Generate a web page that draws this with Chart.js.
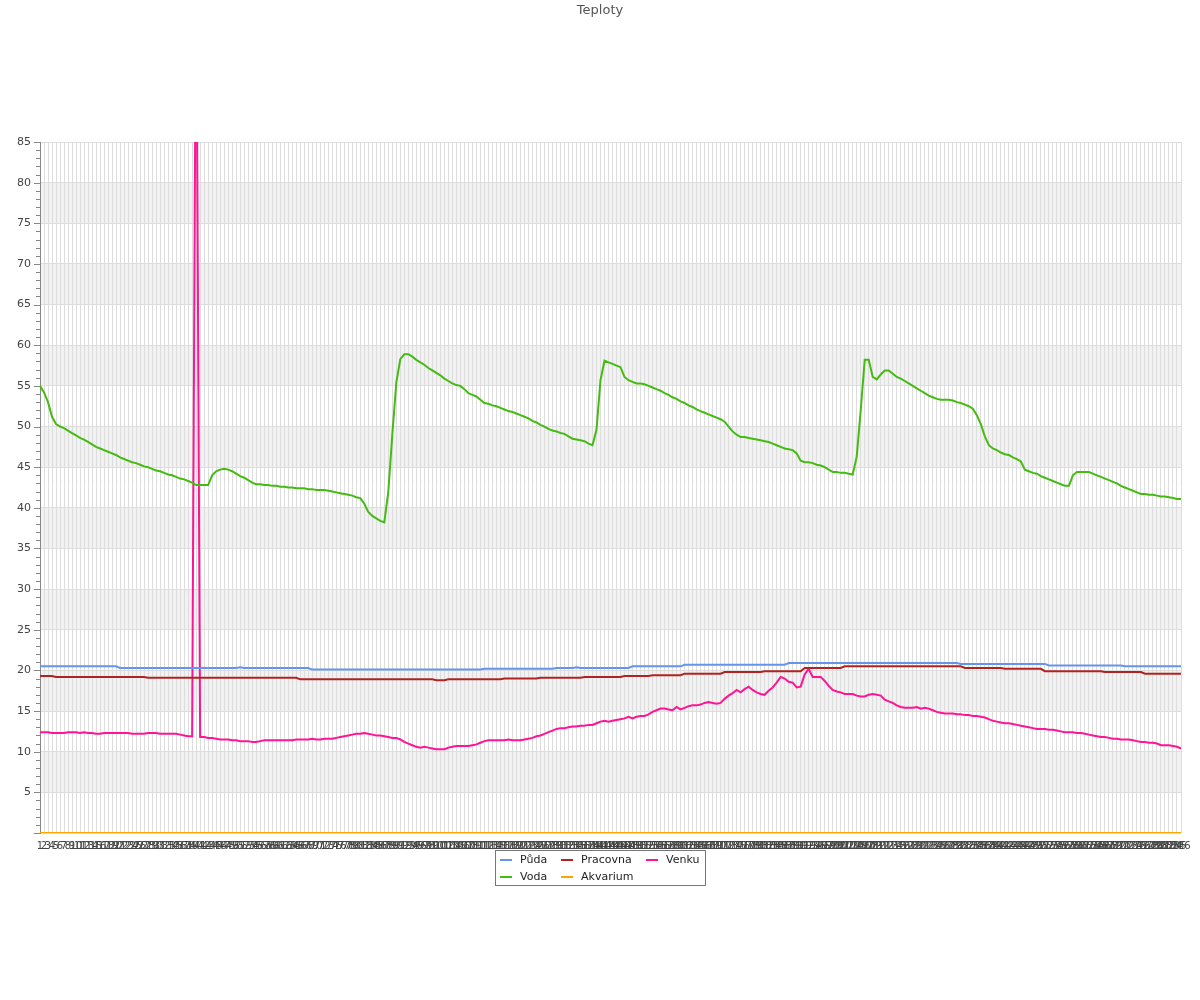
<!DOCTYPE html>
<html>
<head>
<meta charset="utf-8">
<title>Teploty</title>
<script src="https://cdn.jsdelivr.net/npm/chart.js@4.4.0/dist/chart.umd.min.js"></script>
<style>
  html, body { margin: 0; padding: 0; background: #fff; }
  #wrap { position: relative; width: 1200px; height: 1000px; }
</style>
</head>
<body>
<div id="wrap"><canvas id="chartTeploty"></canvas></div>
<script>
// Popisky osy X (poradi mereni)
const labels = Array.from({ length: 286 }, (_, i) => String(i + 1));

// Půda
const puda = [
  20.5,20.5,20.5,20.5,20.5,20.5,20.5,20.5,20.5,20.5,
  20.5,20.5,20.5,20.5,20.5,20.5,20.5,20.5,20.5,20.5,
  20.3,20.3,20.3,20.3,20.3,20.3,20.3,20.3,20.3,20.3,
  20.3,20.3,20.3,20.3,20.3,20.3,20.3,20.3,20.3,20.3,
  20.3,20.3,20.3,20.3,20.3,20.3,20.3,20.3,20.3,20.3,
  20.4,20.3,20.3,20.3,20.3,20.3,20.3,20.3,20.3,20.3,
  20.3,20.3,20.3,20.3,20.3,20.3,20.3,20.3,20.1,20.1,
  20.1,20.1,20.1,20.1,20.1,20.1,20.1,20.1,20.1,20.1,
  20.1,20.1,20.1,20.1,20.1,20.1,20.1,20.1,20.1,20.1,
  20.1,20.1,20.1,20.1,20.1,20.1,20.1,20.1,20.1,20.1,
  20.1,20.1,20.1,20.1,20.1,20.1,20.1,20.1,20.1,20.1,
  20.1,20.2,20.2,20.2,20.2,20.2,20.2,20.2,20.2,20.2,
  20.2,20.2,20.2,20.2,20.2,20.2,20.2,20.2,20.2,20.3,
  20.3,20.3,20.3,20.3,20.4,20.3,20.3,20.3,20.3,20.3,
  20.3,20.3,20.3,20.3,20.3,20.3,20.3,20.3,20.5,20.5,
  20.5,20.5,20.5,20.5,20.5,20.5,20.5,20.5,20.5,20.5,
  20.5,20.7,20.7,20.7,20.7,20.7,20.7,20.7,20.7,20.7,
  20.7,20.7,20.7,20.7,20.7,20.7,20.7,20.7,20.7,20.7,
  20.7,20.7,20.7,20.7,20.7,20.7,20.7,20.9,20.9,20.9,
  20.9,20.9,20.9,20.9,20.9,20.9,20.9,20.9,20.9,20.9,
  20.9,20.9,20.9,20.9,20.9,20.9,20.9,20.9,20.9,20.9,
  20.9,20.9,20.9,20.9,20.9,20.9,20.9,20.9,20.9,20.9,
  20.9,20.9,20.9,20.9,20.9,20.9,20.9,20.9,20.9,20.9,
  20.8,20.8,20.8,20.8,20.8,20.8,20.8,20.8,20.8,20.8,
  20.8,20.8,20.8,20.8,20.8,20.8,20.8,20.8,20.8,20.8,
  20.8,20.8,20.6,20.6,20.6,20.6,20.6,20.6,20.6,20.6,
  20.6,20.6,20.6,20.6,20.6,20.6,20.6,20.6,20.6,20.6,
  20.6,20.5,20.5,20.5,20.5,20.5,20.5,20.5,20.5,20.5,
  20.5,20.5,20.5,20.5,20.5,20.5
];

// Voda
const voda = [
  55.0,54.2,53.0,51.2,50.3,50.0,49.8,49.5,49.2,48.9,
  48.6,48.4,48.1,47.8,47.5,47.3,47.1,46.9,46.7,46.5,
  46.2,46.0,45.8,45.6,45.5,45.3,45.1,45.0,44.8,44.6,
  44.5,44.3,44.1,44.0,43.8,43.6,43.5,43.3,43.1,42.8,
  42.8,42.8,42.8,44.0,44.5,44.7,44.8,44.7,44.5,44.2,
  43.9,43.7,43.4,43.1,42.9,42.9,42.8,42.8,42.7,42.7,
  42.6,42.6,42.5,42.5,42.4,42.4,42.4,42.3,42.3,42.2,
  42.2,42.2,42.1,42.0,41.9,41.8,41.7,41.6,41.5,41.3,
  41.2,40.5,39.5,39.0,38.7,38.4,38.2,42.0,49.0,55.4,
  58.3,58.9,58.9,58.6,58.2,57.9,57.6,57.2,56.9,56.6,
  56.3,55.9,55.6,55.3,55.1,55.0,54.6,54.1,53.9,53.7,
  53.3,52.9,52.8,52.6,52.5,52.3,52.1,51.9,51.8,51.6,
  51.4,51.2,51.0,50.7,50.5,50.2,50.0,49.7,49.5,49.4,
  49.2,49.1,48.8,48.5,48.4,48.3,48.2,47.9,47.7,49.6,
  55.7,58.1,57.9,57.7,57.5,57.3,56.1,55.7,55.5,55.3,
  55.3,55.2,55.0,54.8,54.6,54.4,54.1,53.9,53.6,53.4,
  53.1,52.9,52.6,52.4,52.1,51.9,51.7,51.5,51.3,51.1,
  50.9,50.6,50.0,49.4,49.0,48.7,48.7,48.6,48.5,48.4,
  48.3,48.2,48.1,47.9,47.7,47.5,47.3,47.2,47.1,46.7,
  45.8,45.6,45.6,45.5,45.3,45.2,45.0,44.7,44.4,44.4,
  44.3,44.3,44.2,44.1,46.3,52.0,58.2,58.2,56.1,55.8,
  56.4,56.9,56.9,56.5,56.1,55.9,55.6,55.3,55.0,54.7,
  54.4,54.1,53.8,53.6,53.4,53.3,53.3,53.3,53.2,53.0,
  52.9,52.7,52.5,52.2,51.4,50.3,48.8,47.7,47.3,47.1,
  46.8,46.6,46.5,46.2,46.0,45.7,44.7,44.5,44.3,44.2,
  43.9,43.7,43.5,43.3,43.1,42.9,42.7,42.7,44.0,44.4,
  44.4,44.4,44.4,44.2,44.0,43.8,43.6,43.4,43.2,43.0,
  42.7,42.5,42.3,42.1,41.9,41.7,41.7,41.6,41.6,41.5,
  41.4,41.4,41.3,41.2,41.1,41.1
];

// Pracovna
const pracovna = [
  19.3,19.3,19.3,19.3,19.2,19.2,19.2,19.2,19.2,19.2,
  19.2,19.2,19.2,19.2,19.2,19.2,19.2,19.2,19.2,19.2,
  19.2,19.2,19.2,19.2,19.2,19.2,19.2,19.1,19.1,19.1,
  19.1,19.1,19.1,19.1,19.1,19.1,19.1,19.1,19.1,19.1,
  19.1,19.1,19.1,19.1,19.1,19.1,19.1,19.1,19.1,19.1,
  19.1,19.1,19.1,19.1,19.1,19.1,19.1,19.1,19.1,19.1,
  19.1,19.1,19.1,19.1,19.1,18.9,18.9,18.9,18.9,18.9,
  18.9,18.9,18.9,18.9,18.9,18.9,18.9,18.9,18.9,18.9,
  18.9,18.9,18.9,18.9,18.9,18.9,18.9,18.9,18.9,18.9,
  18.9,18.9,18.9,18.9,18.9,18.9,18.9,18.9,18.9,18.8,
  18.8,18.8,18.9,18.9,18.9,18.9,18.9,18.9,18.9,18.9,
  18.9,18.9,18.9,18.9,18.9,18.9,19.0,19.0,19.0,19.0,
  19.0,19.0,19.0,19.0,19.0,19.1,19.1,19.1,19.1,19.1,
  19.1,19.1,19.1,19.1,19.1,19.1,19.2,19.2,19.2,19.2,
  19.2,19.2,19.2,19.2,19.2,19.2,19.3,19.3,19.3,19.3,
  19.3,19.3,19.3,19.4,19.4,19.4,19.4,19.4,19.4,19.4,
  19.4,19.6,19.6,19.6,19.6,19.6,19.6,19.6,19.6,19.6,
  19.6,19.8,19.8,19.8,19.8,19.8,19.8,19.8,19.8,19.8,
  19.8,19.9,19.9,19.9,19.9,19.9,19.9,19.9,19.9,19.9,
  19.9,20.3,20.3,20.3,20.3,20.3,20.3,20.3,20.3,20.3,
  20.3,20.5,20.5,20.5,20.5,20.5,20.5,20.5,20.5,20.5,
  20.5,20.5,20.5,20.5,20.5,20.5,20.5,20.5,20.5,20.5,
  20.5,20.5,20.5,20.5,20.5,20.5,20.5,20.5,20.5,20.5,
  20.5,20.3,20.3,20.3,20.3,20.3,20.3,20.3,20.3,20.3,
  20.3,20.2,20.2,20.2,20.2,20.2,20.2,20.2,20.2,20.2,
  20.2,19.9,19.9,19.9,19.9,19.9,19.9,19.9,19.9,19.9,
  19.9,19.9,19.9,19.9,19.9,19.9,19.8,19.8,19.8,19.8,
  19.8,19.8,19.8,19.8,19.8,19.8,19.6,19.6,19.6,19.6,
  19.6,19.6,19.6,19.6,19.6,19.6
];

// Akvarium
const akvarium = [
  0,0,0,0,0,0,0,0,0,0, 0,0,0,0,0,0,0,0,0,0,
  0,0,0,0,0,0,0,0,0,0, 0,0,0,0,0,0,0,0,0,0,
  0,0,0,0,0,0,0,0,0,0, 0,0,0,0,0,0,0,0,0,0,
  0,0,0,0,0,0,0,0,0,0, 0,0,0,0,0,0,0,0,0,0,
  0,0,0,0,0,0,0,0,0,0, 0,0,0,0,0,0,0,0,0,0,
  0,0,0,0,0,0,0,0,0,0, 0,0,0,0,0,0,0,0,0,0,
  0,0,0,0,0,0,0,0,0,0, 0,0,0,0,0,0,0,0,0,0,
  0,0,0,0,0,0,0,0,0,0, 0,0,0,0,0,0,0,0,0,0,
  0,0,0,0,0,0,0,0,0,0, 0,0,0,0,0,0,0,0,0,0,
  0,0,0,0,0,0,0,0,0,0, 0,0,0,0,0,0,0,0,0,0,
  0,0,0,0,0,0,0,0,0,0, 0,0,0,0,0,0,0,0,0,0,
  0,0,0,0,0,0,0,0,0,0, 0,0,0,0,0,0,0,0,0,0,
  0,0,0,0,0,0,0,0,0,0, 0,0,0,0,0,0,0,0,0,0,
  0,0,0,0,0,0,0,0,0,0, 0,0,0,0,0,0,0,0,0,0,
  0,0,0,0,0,0
];

// Venku
const venku = [
  12.4,12.4,12.4,12.3,12.3,12.3,12.3,12.4,12.4,12.4,
  12.3,12.4,12.3,12.3,12.2,12.2,12.3,12.3,12.3,12.3,
  12.3,12.3,12.3,12.2,12.2,12.2,12.2,12.3,12.3,12.3,
  12.2,12.2,12.2,12.2,12.2,12.1,12.0,11.9,11.9,110,
  11.8,11.8,11.7,11.7,11.6,11.5,11.5,11.5,11.4,11.4,
  11.3,11.3,11.3,11.2,11.2,11.3,11.4,11.4,11.4,11.4,
  11.4,11.4,11.4,11.4,11.5,11.5,11.5,11.5,11.6,11.5,
  11.5,11.6,11.6,11.6,11.7,11.8,11.9,12.0,12.1,12.2,
  12.2,12.3,12.2,12.1,12.0,12.0,11.9,11.8,11.7,11.7,
  11.5,11.2,11.0,10.8,10.6,10.5,10.6,10.5,10.4,10.3,
  10.3,10.3,10.5,10.6,10.7,10.7,10.7,10.7,10.8,10.9,
  11.1,11.3,11.4,11.4,11.4,11.4,11.4,11.5,11.4,11.4,
  11.4,11.5,11.6,11.7,11.9,12.0,12.2,12.4,12.6,12.8,
  12.9,12.9,13.0,13.1,13.1,13.2,13.2,13.3,13.3,13.5,
  13.7,13.8,13.7,13.8,13.9,14.0,14.1,14.3,14.1,14.3,
  14.4,14.4,14.6,14.9,15.1,15.3,15.3,15.2,15.1,15.5,
  15.2,15.4,15.6,15.7,15.7,15.8,16.0,16.1,16.0,15.9,
  16.0,16.5,16.9,17.2,17.6,17.3,17.7,18.0,17.6,17.3,
  17.1,17.0,17.5,17.9,18.5,19.2,19.0,18.6,18.5,17.9,
  18.0,19.5,20.2,19.2,19.2,19.2,18.7,18.1,17.6,17.4,
  17.3,17.1,17.1,17.1,16.9,16.8,16.8,17.0,17.1,17.0,
  16.9,16.4,16.2,16.0,15.7,15.5,15.4,15.4,15.4,15.5,
  15.3,15.4,15.3,15.1,14.9,14.8,14.7,14.7,14.7,14.6,
  14.6,14.5,14.5,14.4,14.4,14.3,14.2,14.0,13.8,13.7,
  13.6,13.5,13.5,13.4,13.3,13.2,13.1,13.0,12.9,12.8,
  12.8,12.8,12.7,12.7,12.6,12.5,12.4,12.4,12.4,12.3,
  12.3,12.2,12.1,12.0,11.9,11.8,11.8,11.7,11.6,11.6,
  11.5,11.5,11.5,11.4,11.3,11.2,11.2,11.1,11.1,11.0,
  10.8,10.8,10.8,10.7,10.6,10.4
];

const FONT = 'DejaVu Sans';
const TITLE = 'Teploty';

// Nadpis uprostred platna
const titlePlugin = {
  id: 'centerTitle',
  afterDraw(chart) {
    const { ctx } = chart;
    ctx.save();
    ctx.font = '13px "' + FONT + '"';
    ctx.fillStyle = '#555';
    ctx.textAlign = 'center';
    ctx.textBaseline = 'middle';
    ctx.fillText(TITLE, chart.width / 2, 11);
    ctx.restore();
  }
};

// Pruhy na pozadi (kazde druhe pasmo sede)
const bandPlugin = {
  id: 'bands',
  beforeDraw(chart) {
    const { ctx, chartArea: a, scales: { y } } = chart;
    ctx.save();
    ctx.fillStyle = '#f2f2f2';
    for (let v = 5; v < 85; v += 10) {
      const top = y.getPixelForValue(v + 5);
      const bot = y.getPixelForValue(v);
      ctx.fillRect(a.left, top, a.right - a.left, bot - top);
    }
    ctx.restore();
  }
};

// Male a velke carky na ose Y
const tickPlugin = {
  id: 'yTicks',
  afterDraw(chart) {
    const { ctx, chartArea: a, scales: { y } } = chart;
    ctx.save();
    ctx.strokeStyle = '#888';
    ctx.lineWidth = 1;
    ctx.beginPath();
    for (let v = 0; v <= 85; v++) {
      const py = Math.round(y.getPixelForValue(v)) + 0.5;
      const len = v % 5 === 0 ? 6 : 4;
      ctx.moveTo(a.left - len, py);
      ctx.lineTo(a.left, py);
    }
    ctx.stroke();
    ctx.restore();
  }
};

// Legenda ve trech sloupcich pod grafem
const legendPlugin = {
  id: 'boxLegend',
  afterDraw(chart) {
    const { ctx } = chart;
    const cx = chart.width / 2;
    const bx = Math.round(cx - 105) + 0.5, by = 850.5, bw = 210, bh = 35;
    const cols = [cx - 100, cx - 39, cx + 46];
    const rows = [860, 877];
    // poradi: Půda, Pracovna, Venku / Voda, Akvarium
    const order = [[0, 0, 0], [2, 1, 0], [4, 2, 0], [1, 0, 1], [3, 1, 1]];
    ctx.save();
    ctx.fillStyle = '#fff';
    ctx.fillRect(bx, by, bw, bh);
    ctx.strokeStyle = '#777';
    ctx.lineWidth = 1;
    ctx.strokeRect(bx, by, bw, bh);
    ctx.font = '11px "' + FONT + '"';
    ctx.textBaseline = 'middle';
    ctx.textAlign = 'left';
    order.forEach(([di, c, r]) => {
      const ds = chart.data.datasets[di];
      const x = cols[c], yy = rows[r];
      ctx.strokeStyle = ds.borderColor;
      ctx.lineWidth = 2;
      ctx.beginPath();
      ctx.moveTo(x, yy);
      ctx.lineTo(x + 12, yy);
      ctx.stroke();
      ctx.fillStyle = '#222';
      ctx.fillText(ds.label, x + 20, yy);
    });
    ctx.restore();
  }
};

const ctx = document.getElementById('chartTeploty').getContext('2d');
new Chart(ctx, {
  type: 'line',
  data: {
    labels: labels,
    datasets: [
      { label: 'Půda', data: puda, borderColor: '#6495ed' },
      { label: 'Voda', data: voda, borderColor: '#44bb11' },
      { label: 'Pracovna', data: pracovna, borderColor: '#b22222' },
      { label: 'Akvarium', data: akvarium, borderColor: '#ffa500' },
      { label: 'Venku', data: venku, borderColor: '#ff1493' }
    ].map(d => Object.assign(d, { borderWidth: 2, pointRadius: 0, tension: 0, fill: false }))
  },
  options: {
    responsive: true,
    maintainAspectRatio: false,
    animation: false,
    layout: { padding: { top: 142, right: 19 } },
    plugins: {
      legend: { display: false },
      tooltip: { enabled: false },
      title: { display: false }
    },
    scales: {
      x: {
        grid: { color: '#dddddd', drawTicks: false },
        border: { display: false },
        ticks: {
          autoSkip: false, maxRotation: 0, minRotation: 0, padding: 7,
          color: '#444', font: { family: FONT, size: 10 }
        },
        afterFit: s => { s.height = 167; }
      },
      y: {
        min: 0, max: 85,
        grid: { color: '#dddddd', drawTicks: false },
        border: { color: '#888' },
        ticks: {
          stepSize: 5, padding: 9, color: '#444',
          font: { family: FONT, size: 11 },
          callback: v => (v === 0 ? '' : v)
        },
        afterFit: s => { s.width = 40; }
      }
    }
  },
  plugins: [bandPlugin, tickPlugin, legendPlugin, titlePlugin]
});
</script>
</body>
</html>
